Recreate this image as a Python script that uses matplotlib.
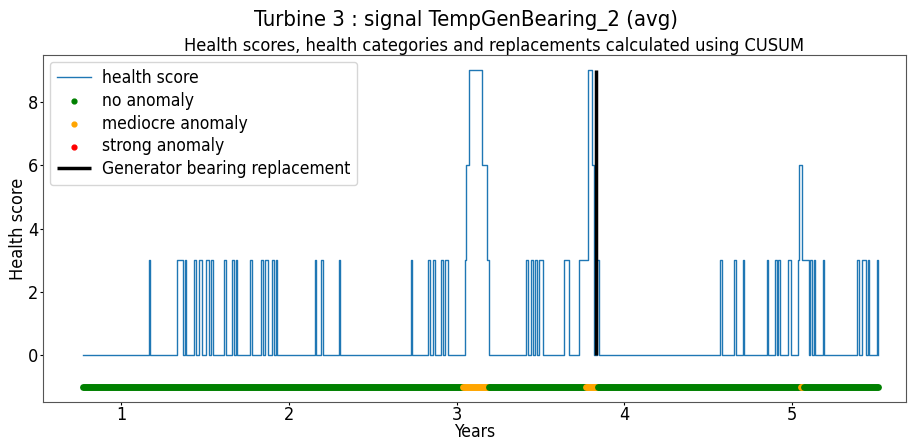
import numpy as np
import matplotlib
matplotlib.use('Agg')
import matplotlib.pyplot as plt

# step change points of the health score (years, value from that time on)
change_years = [
    0.773, 1.167, 1.173, 1.334, 1.364, 1.376, 1.382, 1.430, 1.442, 1.460, 1.478,
    1.507, 1.519, 1.531, 1.543, 1.609, 1.621, 1.657, 1.669, 1.681, 1.687,
    1.764, 1.776, 1.830, 1.842, 1.854, 1.872, 1.896, 1.907, 1.919, 1.925,
    2.152, 2.158, 2.188, 2.200, 2.296, 2.301, 2.725, 2.731, 2.827, 2.839,
    2.857, 2.869, 2.904, 2.916, 2.928, 2.946,
    3.048, 3.054, 3.072, 3.149, 3.179, 3.191,
    3.412, 3.424, 3.442, 3.454, 3.466, 3.478, 3.490, 3.513, 3.639, 3.669,
    3.728, 3.782, 3.806, 3.818, 3.836, 3.848,
    4.570, 4.582, 4.654, 4.666, 4.707, 4.713, 4.851, 4.857, 4.899, 4.910,
    4.916, 4.928, 4.976, 4.994, 5.036, 5.042, 5.060, 5.101,
    5.107, 5.119, 5.131, 5.137, 5.185, 5.191, 5.388, 5.400, 5.418, 5.442,
    5.454, 5.460, 5.507, 5.513,
]
change_scores = [
    0, 3, 0, 3, 0, 3, 0, 3, 0, 3, 0,
    3, 0, 3, 0, 3, 0, 3, 0, 3, 0,
    3, 0, 3, 0, 3, 0, 3, 0, 3, 0,
    3, 0, 3, 0, 3, 0, 3, 0, 3, 0,
    3, 0, 3, 0, 3, 0,
    3, 6, 9, 6, 3, 0,
    3, 0, 3, 0, 3, 0, 3, 0, 3, 0,
    3, 9, 6, 0, 3, 0,
    3, 0, 3, 0, 3, 0, 3, 0, 3, 0,
    3, 0, 3, 0, 3, 6, 3, 0,
    3, 0, 3, 0, 3, 0, 3, 0, 3, 0,
    3, 0, 3, 0,
]

# health category intervals (start, end, category)
cat_start = [0.773, 3.036, 3.191, 3.770, 3.840, 5.050, 5.068]
cat_end = [3.036, 3.191, 3.770, 3.840, 5.050, 5.068, 5.513]
cat_label = ['no', 'mediocre', 'no', 'mediocre', 'no', 'mediocre', 'no']

replacement_year = 3.830

cat_colors = {'no': 'green', 'mediocre': 'orange', 'strong': 'red'}

plt.rcParams['font.family'] = ['DejaVu Sans']
plt.rcParams['font.stretch'] = 'condensed'

fig, ax = plt.subplots(figsize=(9.08, 4.4), dpi=100)
fig.subplots_adjust(left=0.047, right=0.998, top=0.875, bottom=0.086)

ax.step(change_years, change_scores, where='post', color='tab:blue',
        linewidth=1.0, label='health score')

for s, e, c in zip(cat_start, cat_end, cat_label):
    ax.plot([s, e], [-1, -1], color=cat_colors[c], linewidth=5,
            solid_capstyle='round')

# legend entries for the categories
ax.scatter([], [], color='green', s=12, label='no anomaly')
ax.scatter([], [], color='orange', s=12, label='mediocre anomaly')
ax.scatter([], [], color='red', s=12, label='strong anomaly')

ax.vlines(replacement_year, 0, 9, color='black', linewidth=2.5,
          label='Generator bearing replacement')

ax.set_xlim(0.53, 5.68)
ax.set_ylim(-1.49, 9.49)
ax.set_yticks([0, 2, 4, 6, 8])
ax.set_xticks([1, 2, 3, 4, 5])
ax.tick_params(labelsize=13, length=2, pad=1)
for sp in ax.spines.values():
    sp.set_color('#555555')

ax.set_xlabel('Years', fontsize=12.5, labelpad=-1)
ax.set_ylabel('Health score', fontsize=13, labelpad=1)
ax.set_title('Health scores, health categories and replacements calculated using CUSUM',
             fontsize=13.1, pad=3, x=0.523)
fig.suptitle('Turbine 3 : signal TempGenBearing_2 (avg)', fontsize=15.8,
             x=0.513, y=0.977)

ax.legend(loc='upper left', fontsize=12.5, handletextpad=0.6,
          borderaxespad=0.4, labelspacing=0.28)

plt.savefig('out.png', dpi=100)
plt.close()
